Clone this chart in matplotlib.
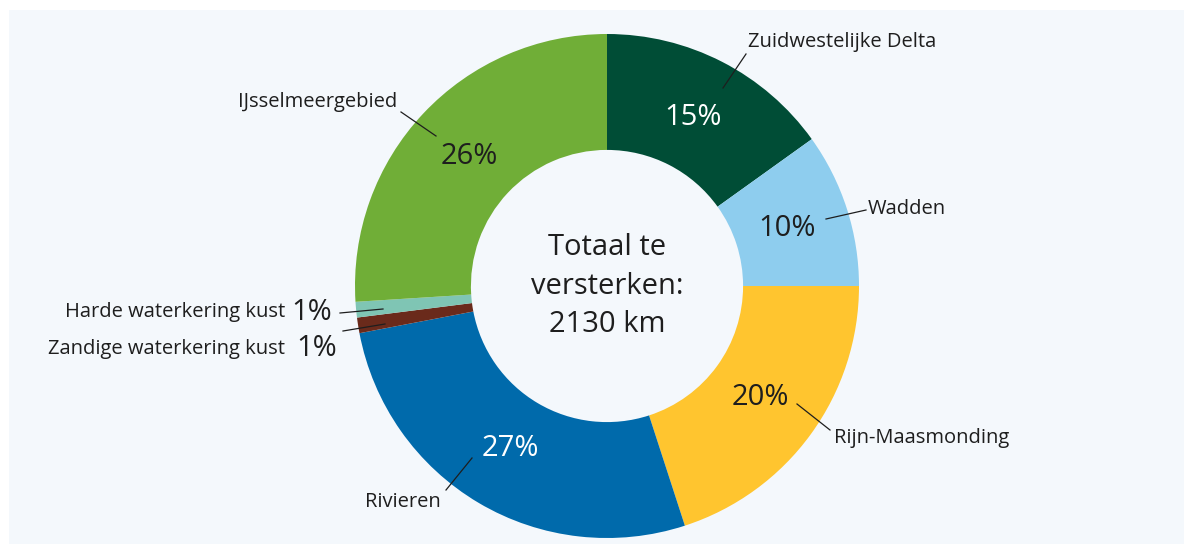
import numpy as np
import matplotlib
matplotlib.use('Agg')
import matplotlib.pyplot as plt
from matplotlib.patches import Rectangle

plt.rcParams['font.family'] = ['Open Sans', 'DejaVu Sans']

regions = ['Zuidwestelijke Delta', 'Wadden', 'Rijn-Maasmonding', 'Rivieren',
           'Zandige waterkering kust', 'Harde waterkering kust', 'IJsselmeergebied']
shares = [15.1, 9.9, 20.0, 27.0, 1.0, 1.0, 26.0]
pct_labels = ['15%', '10%', '20%', '27%', '1%', '1%', '26%']
colors = ['#004d36', '#8ecdee', '#ffc52f', '#006aab', '#6a2a1b', '#7fc5b4', '#70ae37']
pct_colors = ['white', '#1e1e1e', '#1e1e1e', 'white', '#1e1e1e', '#1e1e1e', '#1e1e1e']
center_text = 'Totaal te\nversterken:\n2130 km'

W, H = 1184, 544
fig = plt.figure(figsize=(W / 100, H / 100), dpi=100)
fig.patch.set_facecolor('white')
ax = fig.add_axes([0, 0, 1, 1])

cx, cy = 607, H - 286
R = 252
ring = 0.46 * R

wedges, _ = ax.pie(shares, colors=colors, startangle=90, counterclock=False,
                   center=(cx, cy), radius=R, frame=True,
                   wedgeprops=dict(width=ring, linewidth=0))
ax.set_xlim(0, W)
ax.set_ylim(0, H)
ax.set_aspect('equal')
ax.axis('off')

# light panel behind everything
ax.add_patch(Rectangle((9, 0), W - 9, H - 10, facecolor='#f4f8fc', edgecolor='none', zorder=0))


def polar(theta, r):
    t = np.deg2rad(theta)
    return cx + r * np.cos(t), cy + r * np.sin(t)


# percentages inside the big slices
for i, w in enumerate(wedges):
    if shares[i] < 5:
        continue
    mid = (w.theta1 + w.theta2) / 2
    x, y = polar(mid, 189)
    ax.text(x, y, pct_labels[i], ha='center', va='center', fontsize=21,
            color=pct_colors[i], zorder=5)

# outside labels (pixel positions in the image, y from top)
label_pos = {
    'Zuidwestelijke Delta': (748, 42, 'left'),
    'Wadden': (868, 209, 'left'),
    'Rijn-Maasmonding': (834, 438, 'left'),
    'Rivieren': (441, 502, 'right'),
    'IJsselmeergebied': (397, 102, 'right'),
    'Harde waterkering kust': (285, 312, 'right'),
    'Zandige waterkering kust': (285, 349, 'right'),
}
leaders = {
    'Zuidwestelijke Delta': ((723, 88), (746, 54)),
    'Wadden': ((826, 219), (866, 210)),
    'Rijn-Maasmonding': ((797, 404), (830, 430)),
    'Rivieren': ((472, 458), (446, 490)),
    'IJsselmeergebied': ((401, 112), (436, 136)),
    'Harde waterkering kust': ((340, 313), (383, 309)),
    'Zandige waterkering kust': ((343, 331), (385, 324)),
}
for name in regions:
    x, y, ha = label_pos[name]
    ax.text(x, H - y, name, ha=ha, va='center', fontsize=14.5, color='#1e1e1e')
    (x0, y0), (x1, y1) = leaders[name]
    ax.plot([x0, x1], [H - y0, H - y1], color='#1e1e1e', lw=0.9, zorder=6)

# small slices: percentage next to label
ax.text(291, H - 312, pct_labels[5], ha='left', va='center', fontsize=21, color='#1e1e1e')
ax.text(296, H - 348, pct_labels[4], ha='left', va='center', fontsize=21, color='#1e1e1e')

ax.text(cx, cy, center_text, ha='center', va='center', fontsize=21,
        color='#1e1e1e', linespacing=1.45)

fig.savefig('out.png', dpi=100, facecolor='white')
